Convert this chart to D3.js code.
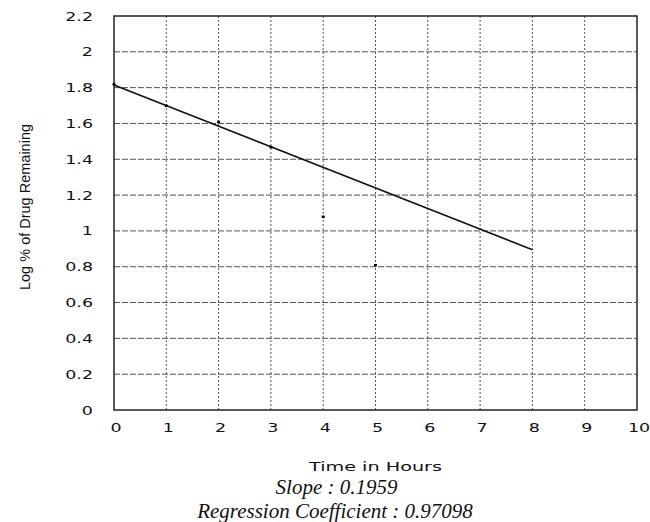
<!DOCTYPE html>
<html><head><meta charset="utf-8">
<script src="https://cdn.jsdelivr.net/npm/d3@7"></script>
<style>body{margin:0;background:#fff}</style>
</head><body>
<script>
const hours = [0, 1, 2, 3, 4, 5];
const logRemaining = [1.82, 1.70, 1.61, 1.47, 1.08, 0.81];
const fitLine = [[0, 1.815], [8, 0.895]];
const xTicks = [0,1,2,3,4,5,6,7,8,9,10];
const yTicks = [0,0.2,0.4,0.6,0.8,1,1.2,1.4,1.6,1.8,2,2.2];
const xLabel = "Time in Hours";
const yLabel = "Log % of Drug Remaining";
const captions = ["Slope : 0.1959", "Regression Coefficient : 0.97098"];

const W = 650, H = 522;
const m = {left:114, right:13, top:16, bottom:112};
const svg = d3.select("body").append("svg").attr("width", W).attr("height", H);
const x = d3.scaleLinear().domain([0,10]).range([m.left, W - m.right]);
const y = d3.scaleLinear().domain([0,2.2]).range([H - m.bottom, m.top]);
const SANS = "DejaVu Sans, sans-serif";
const SX = 1.4;

// grid
svg.append("g").selectAll("line").data(yTicks.slice(1, -1)).join("line")
  .attr("x1", x(0)).attr("x2", x(10)).attr("y1", d => y(d)).attr("y2", d => y(d))
  .attr("stroke", "#555").attr("stroke-width", 1).attr("stroke-dasharray", "6,2");
svg.append("g").selectAll("line").data(xTicks.slice(1, -1)).join("line")
  .attr("y1", y(0)).attr("y2", y(2.2)).attr("x1", d => x(d)).attr("x2", d => x(d))
  .attr("stroke", "#555").attr("stroke-width", 1).attr("stroke-dasharray", "2,2");

// frame
svg.append("rect").attr("x", x(0)).attr("y", y(2.2))
  .attr("width", x(10) - x(0)).attr("height", y(0) - y(2.2))
  .attr("fill", "none").attr("stroke", "#222").attr("stroke-width", 1.5);

// axes (tick labels only), then stretch the label glyphs horizontally
const xAxis = d3.axisBottom(x).tickValues(xTicks).tickSize(0).tickPadding(0).tickFormat(d3.format("d"));
const gx = svg.append("g").attr("transform", `translate(0,${y(0)})`).call(xAxis);
gx.select(".domain").remove();
gx.selectAll(".tick").attr("transform", d => `translate(${x(d) + 2},22)`);
gx.selectAll("text").attr("y", 0).attr("dy", null)
  .attr("font-family", SANS).attr("font-size", 12.5).attr("fill", "#111")
  .attr("transform", `scale(${SX},1)`);

const yAxis = d3.axisLeft(y).tickValues(yTicks).tickSize(0).tickPadding(0).tickFormat(d => String(+d.toFixed(1)));
const gy = svg.append("g").attr("transform", `translate(93,0)`).call(yAxis);
gy.select(".domain").remove();
gy.selectAll("text").attr("x", 0)
  .attr("font-family", SANS).attr("font-size", 12.5).attr("fill", "#111")
  .attr("transform", `scale(${SX},1)`);

// regression line
svg.append("path").datum(fitLine)
  .attr("d", d3.line().x(d => x(d[0])).y(d => y(d[1])))
  .attr("fill", "none").attr("stroke", "#111").attr("stroke-width", 1.5);

// points
svg.append("g").selectAll("rect").data(hours.map((h, i) => [h, logRemaining[i]])).join("rect")
  .attr("x", d => x(d[0]) - 1.5).attr("y", d => y(d[1]) - 1)
  .attr("width", 3).attr("height", 2.5).attr("fill", "#000");

// labels
svg.append("text").attr("x", 375.5).attr("y", 471).attr("text-anchor", "middle")
  .attr("font-family", SANS).attr("font-size", 12).attr("fill", "#111")
  .attr("textLength", 133).attr("lengthAdjust", "spacingAndGlyphs").text(xLabel);
svg.append("text").attr("transform", `translate(30,207) rotate(-90)`).attr("text-anchor", "middle")
  .attr("font-family", "Liberation Sans, Arial, sans-serif").attr("font-size", 14.5).attr("fill", "#111").text(yLabel);
svg.selectAll("text.cap").data(captions).join("text").attr("class", "cap")
  .attr("x", (d, i) => i ? 335 : 336.5).attr("y", (d, i) => 494 + i * 24).attr("text-anchor", "middle")
  .attr("font-family", "Liberation Serif, Times New Roman, serif").attr("font-style", "italic")
  .attr("font-size", 21).attr("fill", "#111").text(d => d);
</script>
</body></html>
